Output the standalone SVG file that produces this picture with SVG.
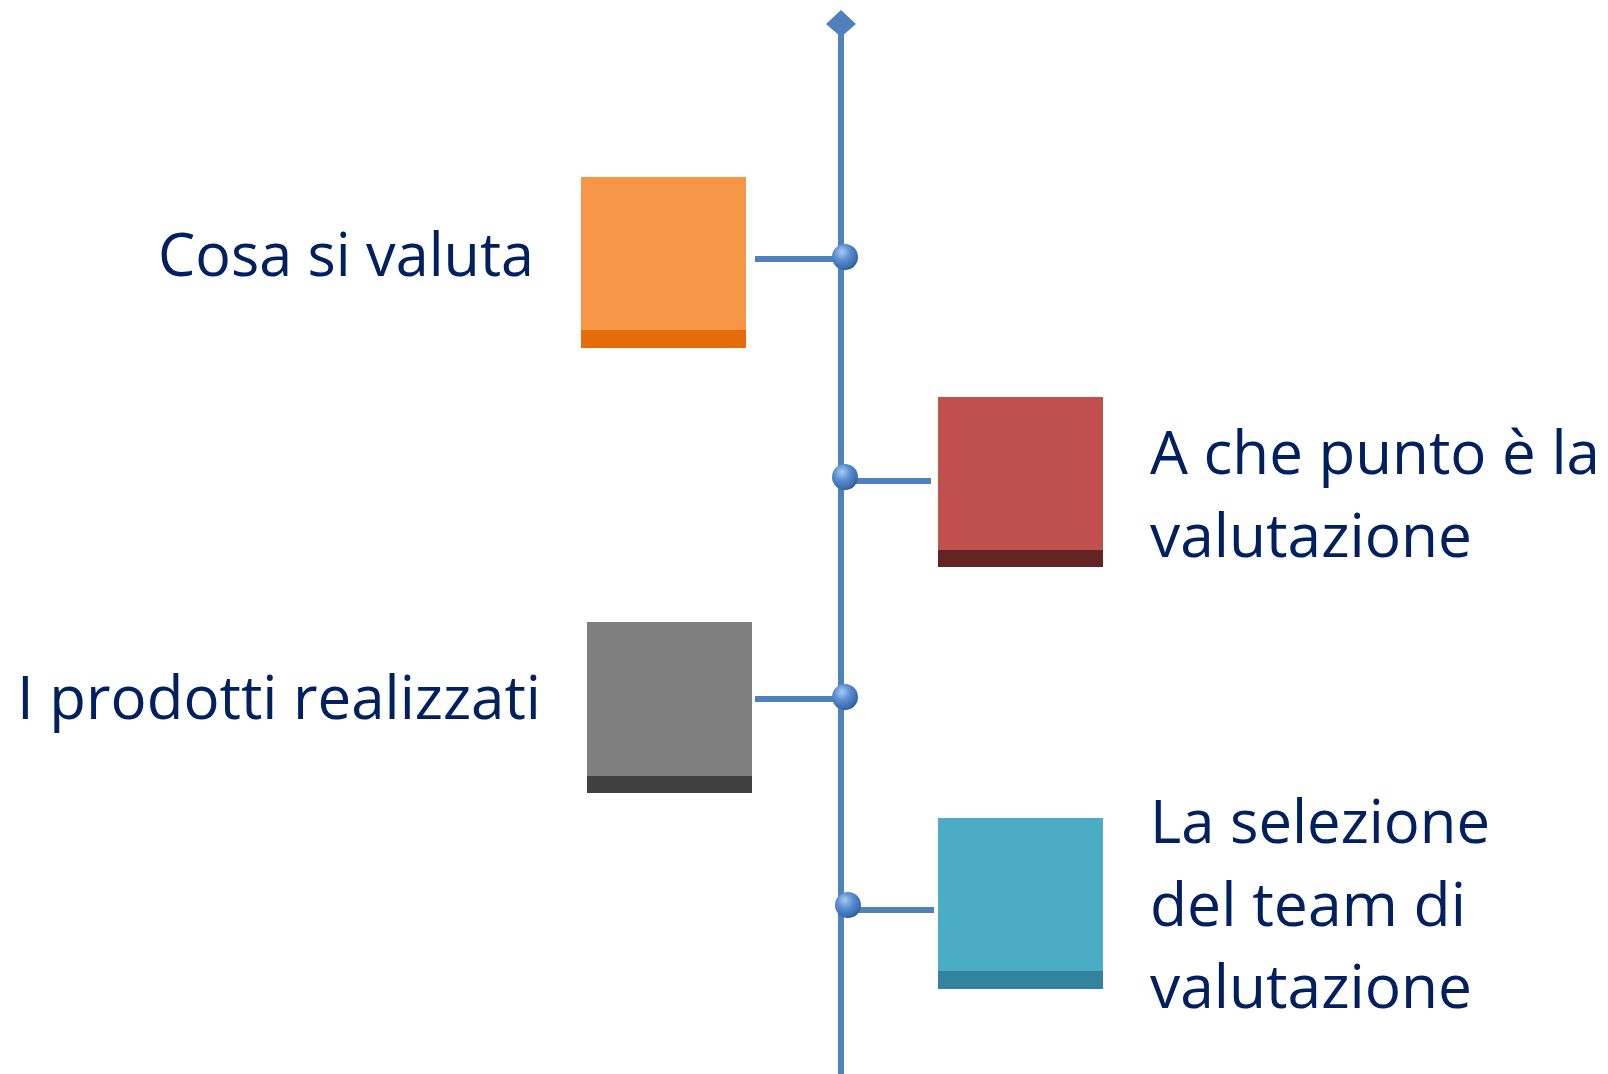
<svg xmlns="http://www.w3.org/2000/svg" width="1608" height="1074" viewBox="0 0 1608 1074">
<style>
.lbl{font-family:"Open Sans","Noto Sans","Liberation Sans",sans-serif;font-size:60px;fill:#002060}
.ln{stroke:#4F81BD;stroke-width:6;fill:none}
.dot{fill:url(#sph)}
</style>
<defs>
<radialGradient id="sph" cx="0.4" cy="0.35" r="0.7" fx="0.38" fy="0.3">
<stop offset="0" stop-color="#A9CBF2"/>
<stop offset="0.45" stop-color="#5A8ED0"/>
<stop offset="0.85" stop-color="#3A6CAB"/>
<stop offset="1" stop-color="#2B5283"/>
</radialGradient>
</defs>
<rect width="1608" height="1074" fill="#ffffff"/>
<g id="connectors">
<line class="ln" x1="841" y1="30" x2="841" y2="1074"/>
<polygon points="841,10 856,24 841,37 826,24" fill="#4F81BD"/>
<line class="ln" x1="755" y1="259" x2="845" y2="259"/>
<line class="ln" x1="845" y1="481" x2="931" y2="481"/>
<line class="ln" x1="755" y1="699" x2="845" y2="699"/>
<line class="ln" x1="848" y1="910" x2="934" y2="910"/>
<circle class="dot" cx="845" cy="257" r="13"/>
<circle class="dot" cx="845" cy="477" r="13"/>
<circle class="dot" cx="845" cy="697" r="13"/>
<circle class="dot" cx="848" cy="905" r="13"/>
</g>
<g id="node1">
<rect x="581" y="177" width="165" height="171" fill="#F79646"/>
<rect x="581" y="330" width="165" height="18" fill="#E46C0A"/>
<text class="lbl" x="534" y="276" text-anchor="end" textLength="376" lengthAdjust="spacingAndGlyphs">Cosa si valuta</text>
</g>
<g id="node2">
<rect x="938" y="397" width="165" height="170" fill="#C0504D"/>
<rect x="938" y="550" width="165" height="17" fill="#632523"/>
<text class="lbl" x="1150" y="474" textLength="450" lengthAdjust="spacingAndGlyphs">A che punto è la</text>
<text class="lbl" x="1150" y="557" textLength="322" lengthAdjust="spacingAndGlyphs">valutazione</text>
</g>
<g id="node3">
<rect x="587" y="622" width="165" height="171" fill="#7F7F7F"/>
<rect x="587" y="776" width="165" height="17" fill="#404040"/>
<text class="lbl" x="541" y="719" text-anchor="end" textLength="524" lengthAdjust="spacingAndGlyphs">I prodotti realizzati</text>
</g>
<g id="node4">
<rect x="938" y="818" width="165" height="171" fill="#4BACC6"/>
<rect x="938" y="971" width="165" height="18" fill="#31849B"/>
<text class="lbl" x="1150" y="843" textLength="340" lengthAdjust="spacingAndGlyphs">La selezione</text>
<text class="lbl" x="1150" y="926" textLength="316" lengthAdjust="spacingAndGlyphs">del team di</text>
<text class="lbl" x="1150" y="1008" textLength="322" lengthAdjust="spacingAndGlyphs">valutazione</text>
</g>
</svg>
